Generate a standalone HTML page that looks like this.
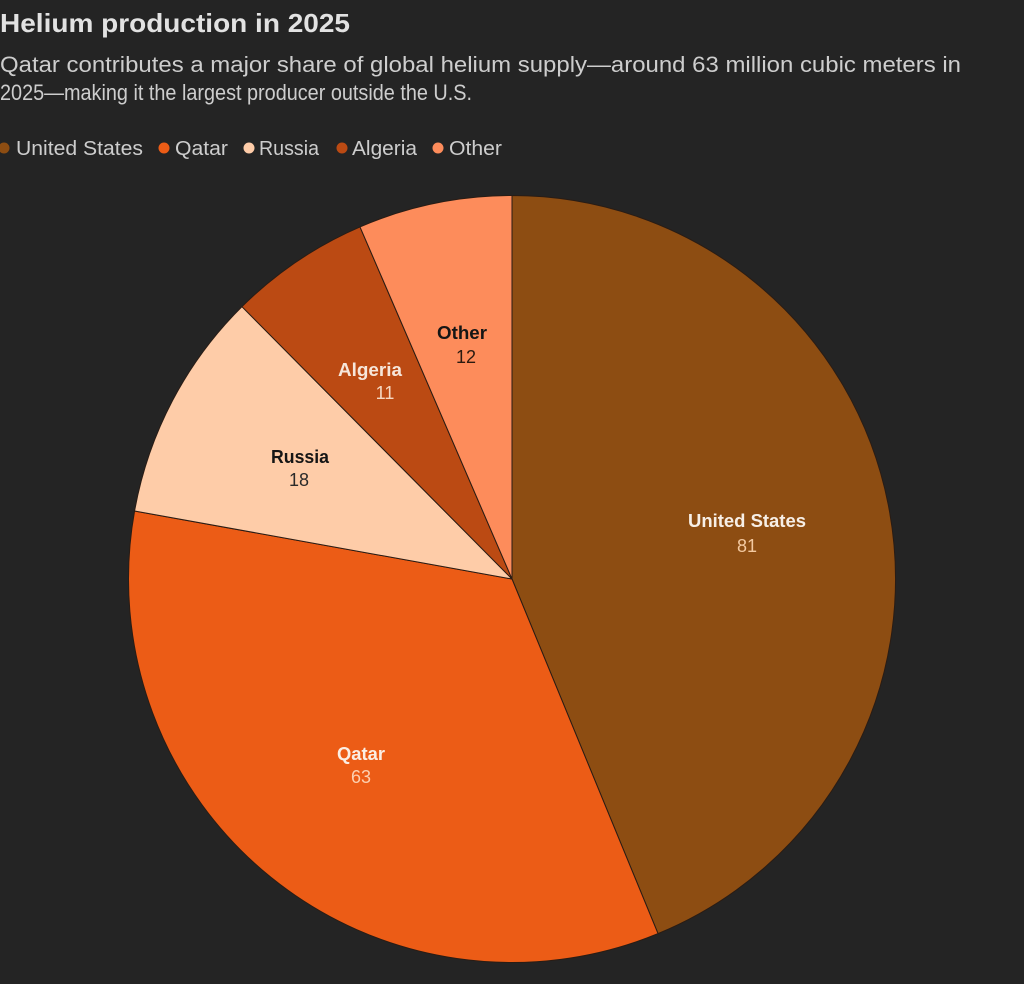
<!DOCTYPE html>
<html>
<head>
<meta charset="utf-8">
<style>
  html, body { margin:0; padding:0; background:#242424; }
  body { width:1024px; height:984px; overflow:hidden; }
  svg { display:block; }
  text { font-family: "Liberation Sans", "DejaVu Sans", sans-serif; }
</style>
</head>
<body>
<svg width="1024" height="984" viewBox="0 0 1024 984" xmlns="http://www.w3.org/2000/svg">
  <rect x="0" y="0" width="1024" height="984" fill="#242424"/>

  <!-- Title -->
  <text x="0" y="32" font-size="26" font-weight="bold" fill="#e2e2e2" textLength="350" lengthAdjust="spacingAndGlyphs">Helium production in 2025</text>

  <!-- Subtitle -->
  <text x="0" y="72" font-size="22" fill="#cdcdcd" textLength="961" lengthAdjust="spacingAndGlyphs">Qatar contributes a major share of global helium supply—around 63 million cubic meters in</text>
  <text x="0" y="100" font-size="22" fill="#cdcdcd" textLength="472" lengthAdjust="spacingAndGlyphs">2025—making it the largest producer outside the U.S.</text>

  <!-- Legend -->
  <g font-size="20" fill="#cdcdcd">
    <circle cx="4" cy="148" r="5.5" fill="#8d4d12"/>
    <text x="16" y="155" textLength="127" lengthAdjust="spacingAndGlyphs">United States</text>
    <circle cx="164" cy="148" r="5.5" fill="#ec5c16"/>
    <text x="175" y="155" textLength="53" lengthAdjust="spacingAndGlyphs">Qatar</text>
    <circle cx="249" cy="148" r="5.5" fill="#fecca8"/>
    <text x="259" y="155" textLength="60" lengthAdjust="spacingAndGlyphs">Russia</text>
    <circle cx="342" cy="148" r="5.5" fill="#bb4a13"/>
    <text x="352" y="155" textLength="65" lengthAdjust="spacingAndGlyphs">Algeria</text>
    <circle cx="438" cy="148" r="5.5" fill="#fd8c5b"/>
    <text x="449" y="155" textLength="53" lengthAdjust="spacingAndGlyphs">Other</text>
  </g>

  <!-- Pie -->
  <g stroke="#2a1c14" stroke-width="1" stroke-linejoin="round">
    <path d="M512,579 L512,195.5 A383.5,383.5 0 0 1 658.01,933.62 Z" fill="#8d4d12"/>
    <path d="M512,579 L658.01,933.62 A383.5,383.5 0 0 1 134.58,510.99 Z" fill="#ec5c16"/>
    <path d="M512,579 L134.58,510.99 A383.5,383.5 0 0 1 241.98,306.68 Z" fill="#fecca8"/>
    <path d="M512,579 L241.98,306.68 A383.5,383.5 0 0 1 360,226.91 Z" fill="#bb4a13"/>
    <path d="M512,579 L360,226.91 A383.5,383.5 0 0 1 512,195.5 Z" fill="#fd8c5b"/>
  </g>

  <!-- Slice labels -->
  <g font-size="18" text-anchor="middle">
    <text x="747" y="527" font-weight="bold" fill="#f7efe6" textLength="118" lengthAdjust="spacingAndGlyphs">United States</text>
    <text x="747" y="552" fill="#f3c9a0">81</text>

    <text x="361" y="760" font-weight="bold" fill="#fbeee4" textLength="48" lengthAdjust="spacingAndGlyphs">Qatar</text>
    <text x="361" y="783" fill="#fcd0b0">63</text>

    <text x="300" y="463" font-weight="bold" fill="#151515" textLength="58" lengthAdjust="spacingAndGlyphs">Russia</text>
    <text x="299" y="486" fill="#2a2a2a">18</text>

    <text x="370" y="376" font-weight="bold" fill="#f6e6da" textLength="64" lengthAdjust="spacingAndGlyphs">Algeria</text>
    <text x="385" y="399" fill="#f6d8c2">11</text>

    <text x="462" y="339" font-weight="bold" fill="#151515" textLength="50" lengthAdjust="spacingAndGlyphs">Other</text>
    <text x="466" y="363" fill="#2a1a10">12</text>
  </g>
</svg>
</body>
</html>
